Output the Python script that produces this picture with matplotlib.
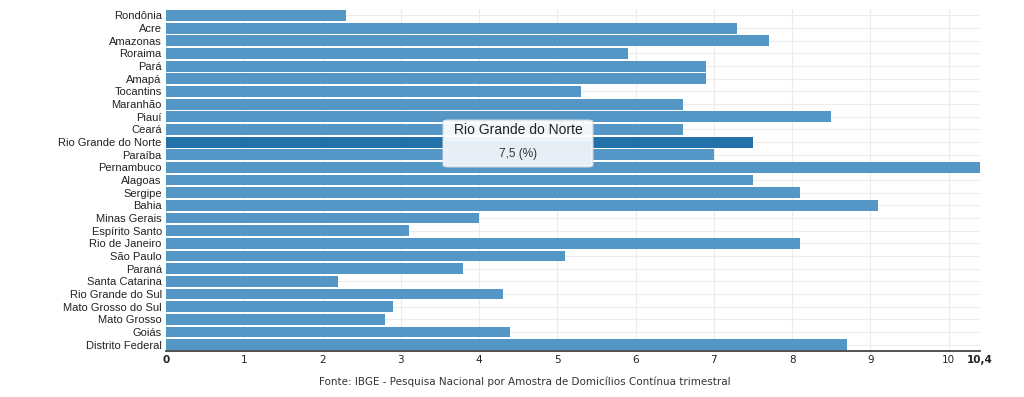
import matplotlib.pyplot as plt
from matplotlib.patches import FancyBboxPatch, Rectangle

estados = ['Rondônia', 'Acre', 'Amazonas', 'Roraima', 'Pará', 'Amapá', 'Tocantins',
           'Maranhão', 'Piauí', 'Ceará', 'Rio Grande do Norte', 'Paraíba', 'Pernambuco',
           'Alagoas', 'Sergipe', 'Bahia', 'Minas Gerais', 'Espírito Santo',
           'Rio de Janeiro', 'São Paulo', 'Paraná', 'Santa Catarina',
           'Rio Grande do Sul', 'Mato Grosso do Sul', 'Mato Grosso', 'Goiás',
           'Distrito Federal']
taxas = [2.3, 7.3, 7.7, 5.9, 6.9, 6.9, 5.3, 6.6, 8.5, 6.6, 7.5, 7.0, 10.4,
         7.5, 8.1, 9.1, 4.0, 3.1, 8.1, 5.1, 3.8, 2.2, 4.3, 2.9, 2.8, 4.4, 8.7]
destaque = 'Rio Grande do Norte'
xticks = [0, 1, 2, 3, 4, 5, 6, 7, 8, 9, 10, 10.4]
xlabels = ['0', '1', '2', '3', '4', '5', '6', '7', '8', '9', '10', '10,4']

plt.rcParams['font.family'] = ['Liberation Sans', 'DejaVu Sans']

fig = plt.figure(figsize=(10.24, 3.97), dpi=100)
ax = fig.add_axes([0.1621, 0.116, 0.7949, 0.861])

cores = ['#2371aa' if e == destaque else '#5497c6' for e in estados]
ypos = list(range(len(estados)))
ax.barh(ypos, taxas, height=0.86, color=cores, zorder=2)

ax.set_xlim(0, 10.4)
ax.set_ylim(len(estados) - 0.5, -0.5)
ax.set_yticks(ypos)
ax.set_yticklabels(estados, fontsize=8, color='#222222')
ax.set_xticks(xticks)
ax.set_xticklabels(xlabels, fontsize=7.5, color='#222222', family='DejaVu Sans')
for lbl in ax.get_xticklabels():
    if lbl.get_text() in ('0', '10,4'):
        lbl.set_fontweight('bold')
ax.tick_params(length=0, pad=3)
ax.grid(True, color='#ececec', linewidth=0.8, zorder=0)
for s in ['top', 'right', 'left']:
    ax.spines[s].set_visible(False)
ax.spines['bottom'].set_color('#333333')
ax.spines['bottom'].set_linewidth(1.2)

# tooltip
i = estados.index(destaque)
x0, y0, w, h = 443 / 1024, 1 - 167 / 397, 150 / 1024, 47 / 397
box = FancyBboxPatch((x0, y0), w, h,
                     boxstyle='round,pad=0,rounding_size=0.005',
                     transform=fig.transFigure, facecolor='#fbfcfd',
                     edgecolor='#d0d6dc', linewidth=0.8, alpha=0.95, zorder=5)
fig.patches.append(box)
fig.patches.append(Rectangle((x0 + 0.002, y0 + 0.006), w - 0.004, 24 / 397,
                             transform=fig.transFigure, facecolor='#e6eef5',
                             edgecolor='none', alpha=0.9, zorder=5))
fig.text(518 / 1024, 1 - 130 / 397, destaque, ha='center', va='center',
         fontsize=10, color='#222222', zorder=6)
fig.text(518 / 1024, 1 - 154 / 397, f'{taxas[i]:.1f} (%)'.replace('.', ','),
         ha='center', va='center', fontsize=8.5, color='#333333', zorder=6)

fig.text(525 / 1024, 1 - 382 / 397,
         'Fonte: IBGE - Pesquisa Nacional por Amostra de Domicílios Contínua trimestral',
         ha='center', va='center', fontsize=7.5, color='#333333', family='DejaVu Sans')

fig.savefig('out.png', dpi=100)
